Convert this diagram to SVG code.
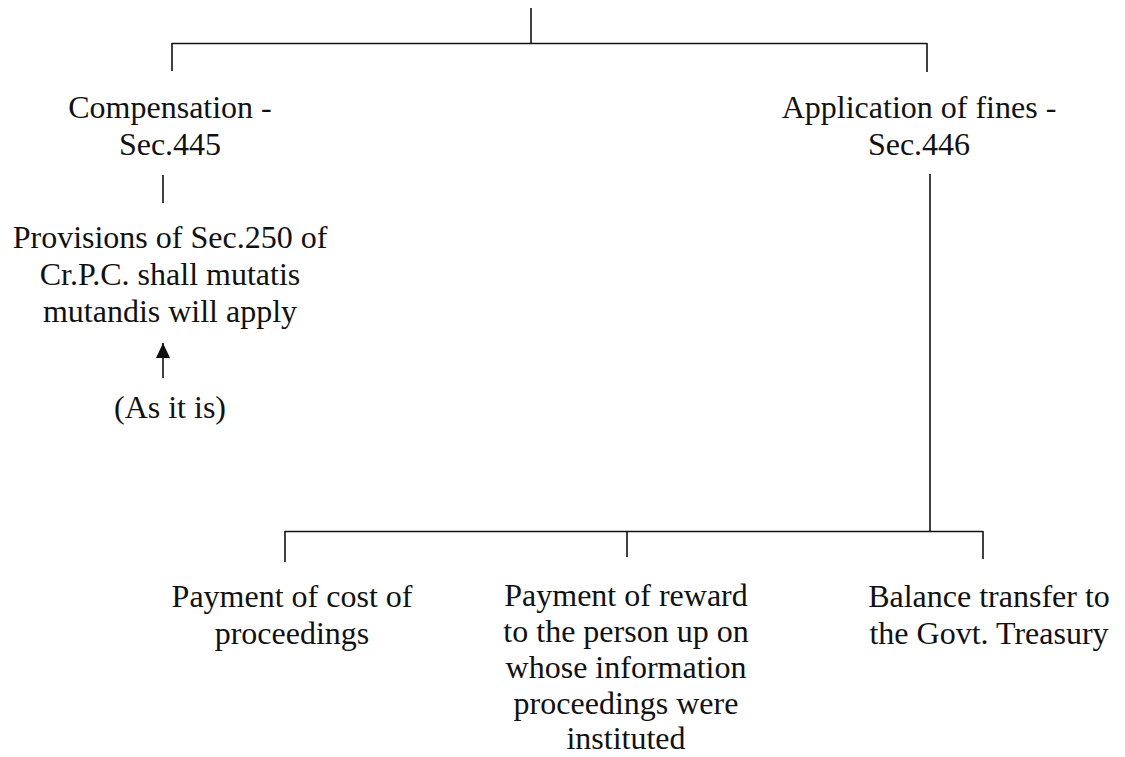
<svg xmlns="http://www.w3.org/2000/svg" width="1125" height="757" viewBox="0 0 1125 757">
  <style>
    .lbl { font-family: "Liberation Serif", "Times New Roman", serif; font-size: 32px; fill: #111; text-anchor: middle; }
    .ln { stroke: #111; stroke-width: 1.6; fill: none; }
  </style>
  <defs>
    <!-- solid triangular head, tip at the end of the line -->
    <marker id="head" viewBox="0 0 16 16" refX="15" refY="8" markerWidth="16" markerHeight="16" markerUnits="userSpaceOnUse" orient="auto">
      <path d="M0,1 L15,8 L0,15 Z" fill="#111"/>
    </marker>
  </defs>
  <rect width="1125" height="757" fill="#fff"/>

  <!-- connectors -->
  <g id="connectors">
    <!-- top branch -->
    <line class="ln" x1="531" y1="8" x2="531" y2="43.5"/>
    <line class="ln" x1="172" y1="43.5" x2="927" y2="43.5"/>
    <line class="ln" x1="172" y1="43" x2="172" y2="71" stroke-width="2"/>
    <line class="ln" x1="927" y1="43" x2="927" y2="72"/>
    <!-- left column -->
    <line class="ln" x1="163" y1="175" x2="163" y2="203"/>
    <line class="ln" x1="163" y1="378" x2="163" y2="343" marker-end="url(#head)"/>
    <!-- right column -->
    <line class="ln" x1="930" y1="174" x2="930" y2="531.5" stroke-width="1.4"/>
    <line class="ln" x1="285" y1="531.5" x2="983" y2="531.5"/>
    <line class="ln" x1="285" y1="531" x2="285" y2="562" stroke-width="2"/>
    <line class="ln" x1="627" y1="531" x2="627" y2="557"/>
    <line class="ln" x1="983" y1="531" x2="983" y2="559" stroke-width="2"/>
  </g>

  <g id="compensation">
    <text class="lbl" x="170" y="118">Compensation -</text>
    <text class="lbl" x="170" y="155">Sec.445</text>
  </g>

  <g id="provisions">
    <text class="lbl" x="170" y="248">Provisions of Sec.250 of</text>
    <text class="lbl" x="170" y="285">Cr.P.C. shall mutatis</text>
    <text class="lbl" x="170" y="322">mutandis will apply</text>
  </g>

  <g id="as-it-is">
    <text class="lbl" x="170" y="418">(As it is)</text>
  </g>

  <g id="application">
    <text class="lbl" x="919" y="118">Application of fines -</text>
    <text class="lbl" x="919" y="155">Sec.446</text>
  </g>

  <g id="cost">
    <text class="lbl" x="292" y="607">Payment of cost of</text>
    <text class="lbl" x="292" y="644">proceedings</text>
  </g>

  <g id="reward">
    <text class="lbl" x="626" y="606">Payment of reward</text>
    <text class="lbl" x="626" y="642">to the person up on</text>
    <text class="lbl" x="626" y="678">whose information</text>
    <text class="lbl" x="626" y="714">proceedings were</text>
    <text class="lbl" x="626" y="749">instituted</text>
  </g>

  <g id="treasury">
    <text class="lbl" x="989" y="607">Balance transfer to</text>
    <text class="lbl" x="989" y="644">the Govt. Treasury</text>
  </g>
</svg>
